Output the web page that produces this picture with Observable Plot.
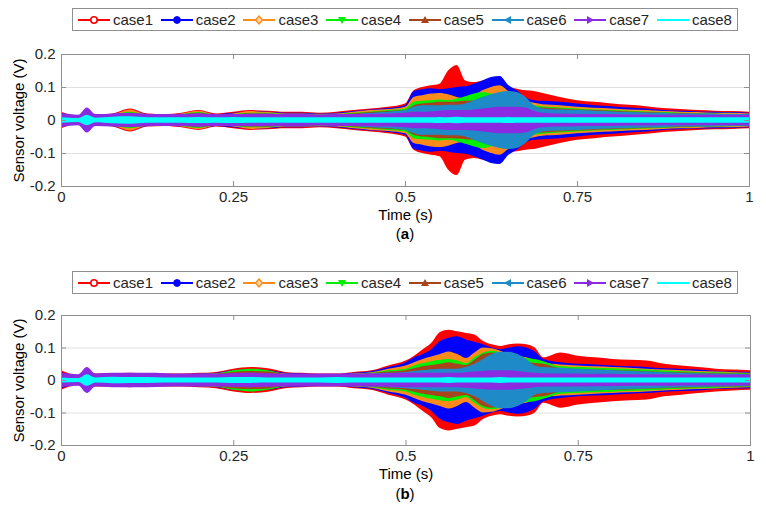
<!DOCTYPE html>
<html><head><meta charset="utf-8">
<script src="https://cdn.jsdelivr.net/npm/d3@7"></script>
<script src="https://cdn.jsdelivr.net/npm/@observablehq/plot@0.6"></script>
<style>
body{margin:0;background:#fff;font-family:"Liberation Sans",Arial,sans-serif;}
#page{position:relative;width:766px;height:523px;overflow:hidden;background:#fff;}
.legend{position:absolute;left:72px;width:666px;height:23px;border:1px solid #8f8f8f;box-sizing:border-box;background:#fff;}
.item{position:absolute;top:0;height:100%;display:flex;align-items:center;font-size:15px;color:#262626;white-space:nowrap;}
.item svg{margin-right:3px;}
.panel{position:absolute;left:0;}
.cap{position:absolute;left:61px;width:688px;text-align:center;font-size:15px;color:#000;}
</style></head>
<body><div id="page"></div>
<script>
const caseNames = ["case1","case2","case3","case4","case5","case6","case7","case8"];
const caseColors = ["#ff0000","#0000ff","#ff8a1c","#00ee00","#a8441c","#1e8bc8","#8a2be2","#00ffff"];
const caseMarkers = ["circleOpen","circle","diamond","triDown","triUp","triLeft","triRight","none"];
const xTicks = [0, 0.25, 0.5, 0.75, 1];
const xLabels = ["0","0.25","0.5","0.75","1"];
const yTicks = [-0.2, -0.1, 0, 0.1, 0.2];
const yLabels = ["-0.2","-0.1","0","0.1","0.2"];
const timeS = [0,0.025,0.0375,0.05,0.075,0.1,0.125,0.15,0.175,0.2,0.225,0.25,0.275,0.3,0.325,0.35,0.375,0.4,0.425,0.45,0.475,0.5,
  0.5125,0.525,0.5375,0.55,0.5625,0.575,0.5875,0.6,0.6125,0.625,0.6375,0.65,0.6625,0.675,0.6875,0.7,
  0.725,0.75,0.775,0.8,0.825,0.85,0.875,0.9,0.925,0.95,0.975,1];

// Panel (a) envelope amplitudes (V)
const case1A = [0.025,0.012,0.025,0.016,0.02,0.035,0.02,0.018,0.022,0.03,0.02,0.025,0.03,0.028,0.025,0.025,0.022,0.025,0.03,0.035,0.04,0.05,
  0.09,0.1,0.105,0.11,0.15,0.167,0.12,0.115,0.12,0.125,0.12,0.1,0.095,0.09,0.088,0.082,
  0.07,0.06,0.055,0.05,0.046,0.042,0.036,0.033,0.03,0.028,0.027,0.025];
const case2A = [0.022,0.01,0.022,0.014,0.018,0.03,0.018,0.016,0.02,0.026,0.018,0.022,0.026,0.025,0.022,0.022,0.02,0.022,0.027,0.032,0.036,0.045,
  0.088,0.093,0.096,0.093,0.096,0.1,0.102,0.11,0.12,0.13,0.133,0.106,0.09,0.068,0.06,0.058,
  0.055,0.05,0.045,0.042,0.038,0.035,0.03,0.028,0.026,0.025,0.024,0.022];
const case3A = [0.02,0.01,0.02,0.013,0.017,0.032,0.017,0.015,0.02,0.028,0.017,0.02,0.027,0.024,0.02,0.02,0.019,0.02,0.025,0.03,0.033,0.04,
  0.07,0.075,0.08,0.082,0.078,0.07,0.065,0.075,0.09,0.1,0.105,0.088,0.075,0.06,0.052,0.048,
  0.045,0.04,0.037,0.035,0.032,0.03,0.027,0.025,0.024,0.022,0.022,0.02];
const case4A = [0.018,0.009,0.018,0.012,0.016,0.025,0.016,0.014,0.018,0.024,0.016,0.018,0.022,0.022,0.018,0.018,0.017,0.018,0.022,0.026,0.03,0.035,
  0.055,0.058,0.06,0.062,0.06,0.065,0.072,0.08,0.085,0.08,0.075,0.068,0.06,0.05,0.045,0.042,
  0.038,0.035,0.032,0.03,0.028,0.026,0.024,0.022,0.021,0.02,0.019,0.018];
const case5A = [0.017,0.008,0.017,0.011,0.015,0.022,0.015,0.013,0.017,0.022,0.015,0.017,0.02,0.02,0.017,0.017,0.016,0.017,0.02,0.024,0.027,0.03,
  0.045,0.05,0.052,0.055,0.055,0.056,0.058,0.06,0.065,0.07,0.068,0.062,0.055,0.046,0.04,0.038,
  0.035,0.032,0.03,0.028,0.026,0.024,0.022,0.021,0.02,0.019,0.018,0.017];
const case6A = [0.018,0.01,0.022,0.012,0.015,0.02,0.015,0.013,0.016,0.02,0.015,0.016,0.018,0.018,0.016,0.016,0.015,0.016,0.018,0.022,0.025,0.03,
  0.04,0.045,0.045,0.045,0.046,0.046,0.05,0.06,0.07,0.078,0.085,0.088,0.085,0.07,0.045,0.035,
  0.032,0.03,0.028,0.026,0.024,0.023,0.022,0.02,0.02,0.019,0.018,0.018];
const case7A = [0.022,0.016,0.038,0.018,0.02,0.021,0.019,0.018,0.018,0.02,0.018,0.018,0.019,0.019,0.018,0.018,0.017,0.018,0.018,0.019,0.02,0.022,
  0.025,0.025,0.026,0.028,0.03,0.03,0.03,0.032,0.035,0.038,0.04,0.04,0.04,0.038,0.028,0.022,
  0.02,0.019,0.018,0.018,0.017,0.017,0.016,0.016,0.016,0.016,0.016,0.016];
const case8A = [0.008,0.006,0.016,0.007,0.01,0.011,0.008,0.008,0.008,0.009,0.008,0.009,0.008,0.008,0.008,0.008,0.008,0.008,0.008,0.008,0.008,0.008,
  0.008,0.008,0.008,0.009,0.008,0.01,0.008,0.008,0.008,0.008,0.008,0.009,0.008,0.008,0.008,0.008,
  0.008,0.008,0.008,0.008,0.008,0.008,0.008,0.008,0.008,0.008,0.008,0.008];

// Panel (b) envelope amplitudes (V)
const case1B = [0.03,0.015,0.03,0.02,0.02,0.022,0.02,0.02,0.02,0.022,0.025,0.035,0.04,0.036,0.025,0.022,0.02,0.02,0.025,0.03,0.045,0.06,
  0.075,0.095,0.115,0.148,0.155,0.15,0.145,0.14,0.12,0.11,0.105,0.11,0.112,0.11,0.1,0.07,
  0.085,0.075,0.07,0.065,0.062,0.06,0.05,0.045,0.04,0.035,0.032,0.03];
const case2B = [0.025,0.012,0.026,0.018,0.02,0.02,0.02,0.018,0.018,0.02,0.022,0.03,0.033,0.03,0.022,0.02,0.018,0.018,0.022,0.027,0.04,0.055,
  0.07,0.08,0.095,0.12,0.13,0.135,0.125,0.118,0.11,0.1,0.095,0.1,0.104,0.1,0.088,0.065,
  0.055,0.05,0.048,0.045,0.042,0.04,0.036,0.034,0.032,0.028,0.026,0.025];
const case3B = [0.022,0.011,0.024,0.016,0.018,0.018,0.018,0.017,0.017,0.019,0.021,0.028,0.03,0.028,0.02,0.018,0.017,0.017,0.02,0.024,0.035,0.045,
  0.055,0.065,0.072,0.08,0.088,0.08,0.068,0.085,0.1,0.098,0.09,0.08,0.075,0.07,0.062,0.055,
  0.048,0.045,0.042,0.04,0.038,0.035,0.032,0.03,0.028,0.026,0.024,0.022];
const case4B = [0.02,0.01,0.022,0.015,0.017,0.017,0.017,0.016,0.016,0.018,0.02,0.03,0.035,0.03,0.019,0.017,0.016,0.016,0.019,0.022,0.03,0.035,
  0.045,0.052,0.058,0.062,0.065,0.06,0.052,0.07,0.085,0.09,0.085,0.078,0.072,0.068,0.065,0.058,
  0.042,0.04,0.038,0.036,0.034,0.032,0.029,0.027,0.025,0.024,0.022,0.021];
const case5B = [0.019,0.01,0.021,0.014,0.016,0.016,0.016,0.015,0.015,0.017,0.019,0.025,0.028,0.026,0.018,0.016,0.015,0.015,0.018,0.021,0.026,0.03,
  0.036,0.042,0.046,0.05,0.055,0.05,0.046,0.062,0.08,0.085,0.08,0.07,0.062,0.056,0.052,0.05,
  0.036,0.034,0.032,0.03,0.029,0.027,0.025,0.024,0.022,0.021,0.02,0.019];
const case6B = [0.018,0.01,0.02,0.013,0.015,0.015,0.015,0.014,0.014,0.016,0.017,0.02,0.022,0.02,0.016,0.015,0.014,0.014,0.016,0.02,0.022,0.025,
  0.028,0.03,0.033,0.035,0.035,0.035,0.04,0.05,0.065,0.08,0.087,0.087,0.08,0.065,0.045,0.04,
  0.038,0.035,0.032,0.03,0.028,0.026,0.024,0.022,0.021,0.02,0.019,0.018];
const case7B = [0.022,0.018,0.04,0.02,0.022,0.022,0.022,0.021,0.02,0.02,0.02,0.021,0.022,0.021,0.02,0.02,0.02,0.02,0.02,0.02,0.021,0.022,
  0.022,0.022,0.022,0.022,0.022,0.022,0.024,0.026,0.028,0.03,0.03,0.03,0.028,0.025,0.022,0.021,
  0.02,0.02,0.019,0.019,0.018,0.018,0.018,0.017,0.017,0.017,0.017,0.017];
const case8B = [0.008,0.006,0.018,0.008,0.01,0.009,0.009,0.008,0.008,0.008,0.008,0.009,0.009,0.008,0.008,0.008,0.008,0.009,0.008,0.008,0.008,0.008,
  0.008,0.008,0.008,0.008,0.009,0.008,0.008,0.008,0.008,0.008,0.009,0.008,0.008,0.008,0.008,0.008,
  0.008,0.008,0.008,0.008,0.008,0.008,0.008,0.008,0.008,0.008,0.008,0.008];

const ampsA = [case1A,case2A,case3A,case4A,case5A,case6A,case7A,case8A];
const ampsB = [case1B,case2B,case3B,case4B,case5B,case6B,case7B,case8B];

const page = document.getElementById("page");
const FONT = "'Liberation Sans', Arial, sans-serif";

function markerSvg(kind, color) {
  const c = 16, m = 7;
  switch (kind) {
    case "circleOpen": return `<circle cx="${c}" cy="${m}" r="3.2" fill="#fff" stroke="${color}" stroke-width="1.6"/>`;
    case "circle": return `<circle cx="${c}" cy="${m}" r="3.4" fill="${color}" stroke="${color}" stroke-width="1"/>`;
    case "diamond": return `<path d="M${c},${m-4}L${c+3.5},${m}L${c},${m+4}L${c-3.5},${m}Z" fill="#ffd9a8" stroke="${color}" stroke-width="1.4"/>`;
    case "triDown": return `<path d="M${c-4},${m-3}L${c+4},${m-3}L${c},${m+4}Z" fill="${color}"/>`;
    case "triUp": return `<path d="M${c-4},${m+3}L${c+4},${m+3}L${c},${m-4}Z" fill="${color}"/>`;
    case "triLeft": return `<path d="M${c+3},${m-4}L${c+3},${m+4}L${c-4},${m}Z" fill="${color}"/>`;
    case "triRight": return `<path d="M${c-3},${m-4}L${c-3},${m+4}L${c+4},${m}Z" fill="${color}"/>`;
    default: return "";
  }
}

function legend(top) {
  const box = document.createElement("div");
  box.className = "legend";
  box.style.top = top + "px";
  caseNames.forEach((name, i) => {
    const it = document.createElement("div");
    it.className = "item";
    it.style.left = (5 + i * 82.7) + "px";
    it.innerHTML = `<svg width="32" height="14"><line x1="0" x2="32" y1="7" y2="7" stroke="${caseColors[i]}" stroke-width="2"/>${markerSvg(caseMarkers[i], caseColors[i])}</svg><span>${name}</span>`;
    box.appendChild(it);
  });
  page.appendChild(box);
}

function chart(amps, top, plotH, marginRight) {
  const rows = [];
  caseNames.forEach((c, i) => timeS.forEach((t, j) => rows.push({kase: c, t, a: amps[i][j]})));
  const mT = 14, mB = 44, mL = 61;
  const H = mT + plotH + mB;
  const W = 766;
  const pw = W - mL - marginRight;
  const frameColor = "#8f8f8f";
  const svg = Plot.plot({
    width: W, height: H, marginLeft: mL, marginRight, marginTop: mT, marginBottom: mB,
    style: {fontFamily: FONT, fontSize: "15px", color: "#262626", background: "transparent", overflow: "visible"},
    x: {domain: [0, 1]},
    y: {domain: [-0.2, 0.2]},
    color: {domain: caseNames, range: caseColors},
    marks: [
      Plot.gridY(yTicks, {stroke: "#e1e1e1", strokeOpacity: 1}),
      Plot.areaY(rows, {x: "t", y1: d => -d.a, y2: "a", z: "kase", fill: "kase", curve: "monotone-x"}),
      Plot.frame({stroke: frameColor}),
      Plot.tickX(xTicks, {x: d => d, stroke: frameColor, insetTop: plotH - 5}),
      Plot.tickX(xTicks, {x: d => d, stroke: frameColor, insetBottom: plotH - 5}),
      Plot.tickY(yTicks, {y: d => d, stroke: frameColor, insetRight: pw - 5}),
      Plot.tickY(yTicks, {y: d => d, stroke: frameColor, insetLeft: pw - 5}),
      Plot.axisX(xTicks, {tickSize: 0, tickPadding: 5, tickFormat: d => xLabels[xTicks.indexOf(d)], label: null, fontSize: 15}),
      Plot.axisY(yTicks, {tickSize: 0, tickPadding: 6, tickFormat: d => yLabels[yTicks.indexOf(d)], label: null, fontSize: 15}),
      Plot.text(["Sensor voltage (V)"], {frameAnchor: "left", dx: -42, rotate: -90, textAnchor: "middle", lineAnchor: "middle", text: d => d, fontSize: 15, fill: "#000"}),
      Plot.text(["Time (s)"], {frameAnchor: "bottom", dy: 29, textAnchor: "middle", lineAnchor: "middle", text: d => d, fontSize: 15, fill: "#000"})
    ]
  });
  const wrap = document.createElement("div");
  wrap.className = "panel";
  wrap.style.top = top + "px";
  wrap.appendChild(svg);
  page.appendChild(wrap);
}

function caption(top, letter) {
  const d = document.createElement("div");
  d.className = "cap";
  d.style.top = top + "px";
  d.innerHTML = `(<b>${letter}</b>)`;
  page.appendChild(d);
}

legend(8);
chart(ampsA, 40, 132, 17);
caption(225, "a");
legend(271);
chart(ampsB, 301, 130, 16);
caption(485, "b");
</script>
</body></html>
